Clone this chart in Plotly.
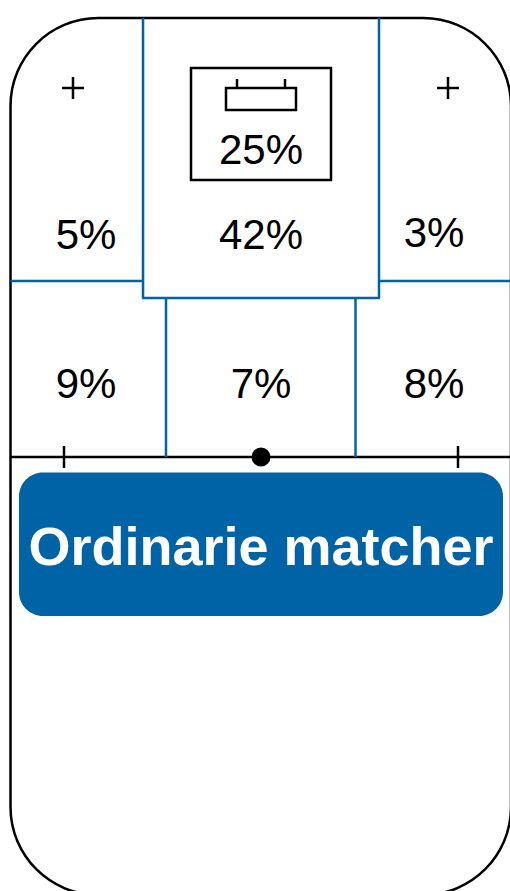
import plotly.graph_objects as go

W, H = 510, 891
BLUE = "#0063A6"
BLACK = "#000000"

# Data: share per zone (main, left to right, top row then bottom row)
zone_labels = ["5%", "42%", "3%", "9%", "7%", "8%"]
zone_x = [86, 261, 434, 86, 261, 434]
zone_y = [238, 238, 236, 387, 387, 387]
inner_label = "25%"
inner_pos = (261, 153)
title_text = "Ordinarie matcher"
title_pos = (261, 551)
plus_x = [73, 448]
plus_y = [88, 88]

NUM_FONT = dict(family="Liberation Sans", size=42, color=BLACK)
LW = 2.5

def line(x0, y0, x1, y1, color=BLACK, width=LW):
    return dict(type="line", x0=x0, y0=y0, x1=x1, y1=y1, xref="x", yref="y",
                layer="below", line=dict(color=color, width=width))

def arc_rect(x0, y0, x1, y1, r):
    k = 0.5523 * r
    return (f"M{x0+r},{y0} L{x1-r},{y0} C{x1-r+k},{y0} {x1},{y0+r-k} {x1},{y0+r} "
            f"L{x1},{y1-r} C{x1},{y1-r+k} {x1-r+k},{y1} {x1-r},{y1} "
            f"L{x0+r},{y1} C{x0+r-k},{y1} {x0},{y1-r+k} {x0},{y1-r} "
            f"L{x0},{y0+r} C{x0},{y0+r-k} {x0+r-k},{y0} {x0+r},{y0} Z")

shapes = [
    dict(type="path", path=arc_rect(10.5, 18, 511, 895, 88), layer="below", line=dict(color=BLACK, width=LW)),
    # baseline and ticks
    line(10.5, 457, 511, 457),
    line(64, 446, 64, 468),
    line(458, 446, 458, 468),
    # blue grid
    line(143, 18, 143, 298, BLUE),
    line(379, 18, 379, 298, BLUE),
    line(142, 298, 380, 298, BLUE),
    line(10.5, 281, 143, 281, BLUE),
    line(379, 281, 511, 281, BLUE),
    line(166, 298, 166, 457, BLUE),
    line(355.5, 298, 355.5, 457, BLUE),
    # inner box and battery icon
    dict(type="rect", x0=191, y0=68, x1=331, y1=180, layer="below", line=dict(color=BLACK, width=LW)),
    dict(type="rect", x0=226, y0=88, x1=296, y1=110, layer="below", line=dict(color=BLACK, width=LW)),
    line(237, 79, 237, 88),
    line(285, 79, 285, 88),
    # button
    dict(type="path", path=arc_rect(19, 472.5, 503, 616, 24), layer="below", fillcolor=BLUE, line=dict(width=0)),
]
for x, y in zip(plus_x, plus_y):
    shapes.append(line(x - 11, y, x + 11, y))
    shapes.append(line(x, y - 11, x, y + 11))

fig = go.Figure()
fig.add_trace(go.Scatter(x=[261], y=[457], mode="markers",
                         marker=dict(size=19, color=BLACK), hoverinfo="skip"))
fig.add_trace(go.Scatter(x=zone_x + [inner_pos[0]], y=zone_y + [inner_pos[1]],
                         mode="text", text=zone_labels + [inner_label],
                         textposition="middle center", textfont=NUM_FONT, hoverinfo="skip"))
fig.add_trace(go.Scatter(x=[title_pos[0]], y=[title_pos[1]], mode="text", text=[title_text],
                         textposition="middle center",
                         textfont=dict(family="Liberation Sans", size=54, color="#FFFFFF", weight="bold"),
                         hoverinfo="skip"))
fig.update_layout(
    width=W, height=H, autosize=False, showlegend=False,
    margin=dict(l=0, r=0, t=0, b=0),
    paper_bgcolor="#FFFFFF", plot_bgcolor="rgba(0,0,0,0)",
    xaxis=dict(range=[0, W], visible=False, fixedrange=True),
    yaxis=dict(range=[H, 0], visible=False, fixedrange=True),
    shapes=shapes,
)
fig.write_html("out.html", config=dict(displayModeBar=False),
               post_script="document.body.style.margin='0';document.body.style.overflow='hidden';")
